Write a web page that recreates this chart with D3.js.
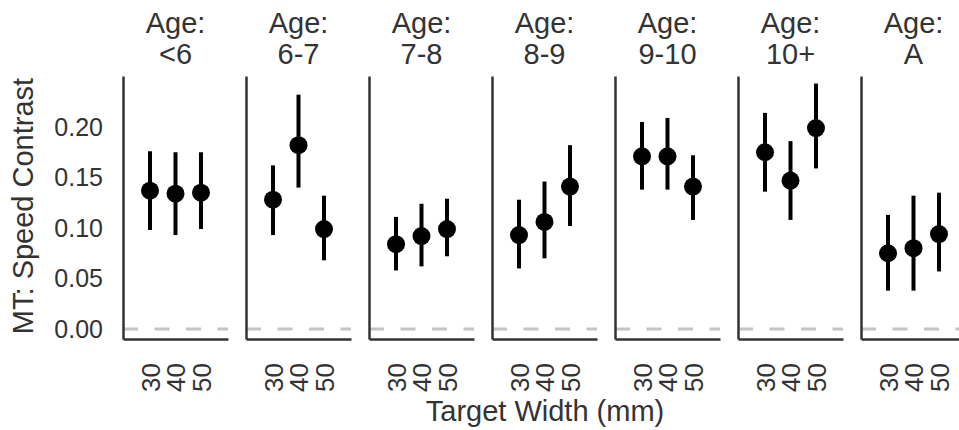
<!DOCTYPE html>
<html>
<head>
<meta charset="utf-8">
<script src="https://cdn.jsdelivr.net/npm/d3@7"></script>
<style>
    body { margin: 0; background: #fff; }
    text { font-family: "Liberation Sans", Arial, sans-serif; fill: #333; }
</style>
</head>
<body>
<div class="chart"></div>
<script>
// Data
const ages = ['<6', '6-7', '7-8', '8-9', '9-10', '10+', 'A']
const widths = ['30', '40', '50']
const means = [
    [0.137, 0.134, 0.135],
    [0.128, 0.182, 0.099],
    [0.084, 0.092, 0.099],
    [0.093, 0.106, 0.141],
    [0.171, 0.171, 0.141],
    [0.175, 0.147, 0.199],
    [0.075, 0.080, 0.094]
]
const lower = [
    [0.098, 0.093, 0.099],
    [0.093, 0.140, 0.068],
    [0.058, 0.062, 0.072],
    [0.060, 0.070, 0.102],
    [0.138, 0.138, 0.108],
    [0.136, 0.108, 0.159],
    [0.038, 0.038, 0.057]
]
const upper = [
    [0.176, 0.175, 0.175],
    [0.162, 0.232, 0.132],
    [0.111, 0.124, 0.129],
    [0.128, 0.146, 0.182],
    [0.205, 0.209, 0.172],
    [0.214, 0.186, 0.243],
    [0.113, 0.132, 0.135]
]
const yTicks = [0, 0.05, 0.10, 0.15, 0.20]

// Dimensions
const dimensions = {
    width: 959,
    height: 430,
    left: 123,
    step: 123,
    panelWidth: 105,
    top: 76,
    bottom: 339
}

const svg = d3.select('.chart')
    .append('svg')
    .attr('width', dimensions.width)
    .attr('height', dimensions.height)

const yScale = d3.scaleLinear()
    .domain([-0.0099, 0.2505])
    .range([dimensions.bottom, dimensions.top])

const xScale = d3.scalePoint()
    .domain(widths)
    .range([0, dimensions.panelWidth])
    .padding(1.06)

ages.forEach((age, i) => {
    const panel = svg.append('g')
        .attr('transform', `translate(${dimensions.left + i * dimensions.step}, 0)`)

    // zero reference line
    panel.append('line')
        .attr('x1', 0)
        .attr('x2', dimensions.panelWidth)
        .attr('y1', yScale(0))
        .attr('y2', yScale(0))
        .attr('stroke', '#c4c4c4')
        .attr('stroke-width', 3)
        .attr('stroke-dasharray', '15 16.5')

    // left spine (+ tick labels on first panel)
    const yAxis = d3.axisLeft(yScale)
        .tickValues(yTicks)
        .tickFormat(d3.format('.2f'))
        .tickSize(0)
        .tickSizeOuter(0)
        .tickPadding(20)
    const yAxisGroup = panel.append('g').call(yAxis)
    yAxisGroup.select('.domain').attr('stroke', '#333').attr('stroke-width', 2.5)
    yAxisGroup.selectAll('text')
        .style('font-size', '25px')
        .attr('fill', '#333')
        .attr('display', i === 0 ? null : 'none')

    // bottom spine + rotated width labels
    const xAxis = d3.axisBottom(xScale)
        .tickSize(0)
        .tickSizeOuter(0)
    const xAxisGroup = panel.append('g')
        .attr('transform', `translate(0, ${dimensions.bottom})`)
        .call(xAxis)
    xAxisGroup.select('.domain').attr('stroke', '#333').attr('stroke-width', 2.5)
    xAxisGroup.selectAll('text')
        .attr('x', 0)
        .attr('y', 0)
        .attr('dy', '0.36em')
        .attr('transform', 'translate(0, 24) rotate(-90)')
        .attr('text-anchor', 'end')
        .attr('fill', '#333')
        .style('font-size', '26px')

    // error bars
    panel.selectAll('line.ci')
        .data(widths)
        .join('line')
        .classed('ci', true)
        .attr('x1', d => xScale(d))
        .attr('x2', d => xScale(d))
        .attr('y1', (d, j) => yScale(lower[i][j]))
        .attr('y2', (d, j) => yScale(upper[i][j]))
        .attr('stroke', '#000')
        .attr('stroke-width', 4)

    // point estimates
    panel.selectAll('circle')
        .data(widths)
        .join('circle')
        .attr('cx', d => xScale(d))
        .attr('cy', (d, j) => yScale(means[i][j]))
        .attr('r', 9)
        .attr('fill', '#000')

    // panel title
    const title = panel.append('text')
        .attr('text-anchor', 'middle')
        .style('font-size', '29px')
    title.append('tspan')
        .attr('x', dimensions.panelWidth / 2)
        .attr('y', 33)
        .text('Age:')
    title.append('tspan')
        .attr('x', dimensions.panelWidth / 2)
        .attr('y', 64)
        .text(age)
})

// axis labels
svg.append('text')
    .attr('x', 545)
    .attr('y', 421)
    .attr('text-anchor', 'middle')
    .style('font-size', '29px')
    .text('Target Width (mm)')

svg.append('text')
    .attr('transform', 'translate(33, 206) rotate(-90)')
    .attr('text-anchor', 'middle')
    .style('font-size', '29px')
    .text('MT: Speed Contrast')
</script>
</body>
</html>
